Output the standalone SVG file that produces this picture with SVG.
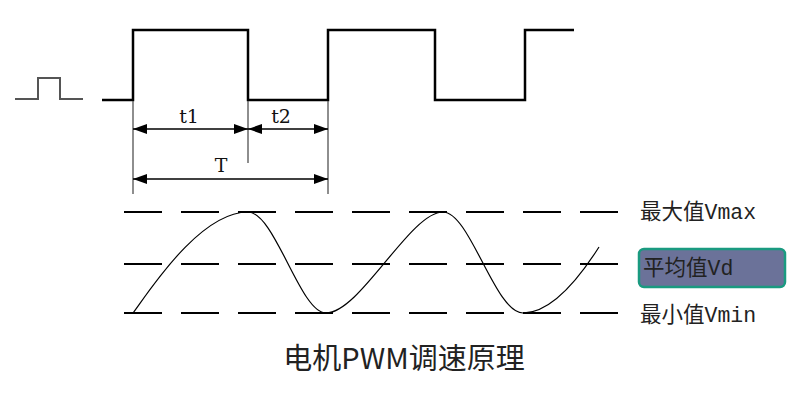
<svg xmlns="http://www.w3.org/2000/svg" width="807" height="400" viewBox="0 0 807 400">
<defs>
<marker id="ah" viewBox="0 0 14 10" refX="14" refY="5" markerWidth="14" markerHeight="10" markerUnits="userSpaceOnUse" orient="auto-start-reverse">
<path d="M0,0 L14,5 L0,10 Z" fill="#000"/>
</marker>
<style>
.wave{fill:none;stroke:#000;stroke-width:2.5;stroke-linejoin:miter}
.small{fill:none;stroke:#555;stroke-width:2}
.ext{fill:none;stroke:#444;stroke-width:1.2}
.dim{fill:none;stroke:#000;stroke-width:1.5}
.dash{fill:none;stroke:#000;stroke-width:2.2;stroke-dasharray:38 19}
.sine{fill:none;stroke:#000;stroke-width:1.2}
.dl{font-family:"DejaVu Serif","Liberation Serif",serif;font-size:19px;fill:#111}
.lab{font-family:"Liberation Mono","Noto Sans CJK SC",monospace;font-size:21.5px;fill:#222}
.title{font-family:"Noto Sans CJK SC","Noto Sans",sans-serif;font-size:29px;fill:#222}
</style>
</defs>
<g id="small-pulse"><path class="small" d="M15,99 H38 V78 H60 V99 H83"/></g>
<g id="pwm-wave"><path class="wave" d="M102,100 H133 V30 H248 V100 H328 V30 H435 V100 H525 V30 H574"/></g>
<g id="connectors">
<path class="ext" d="M133,101 V194 M248,101 V163 M328,101 V194"/>
<path class="dim" d="M133,129 H248" marker-start="url(#ah)" marker-end="url(#ah)"/>
<path class="dim" d="M248,129 H328" marker-start="url(#ah)" marker-end="url(#ah)"/>
<path class="dim" d="M133,179 H328" marker-start="url(#ah)" marker-end="url(#ah)"/>
</g>
<g id="dim-labels">
<text class="dl" x="189" y="123" text-anchor="middle">t1</text>
<text class="dl" x="281" y="123" text-anchor="middle">t2</text>
<text class="dl" x="221" y="172" text-anchor="middle">T</text>
</g>
<g id="levels">
<path class="dash" d="M124,212 H618 M124,264 H618 M124,313 H618"/>
</g>
<g id="sine"><path class="sine" d="M133,313 C150,290 200,212 248,212 C275,212 300,313 326,313 C360,313 410,212 443,212 C470,212 495,313 523,313 C550,313 578,280 599,247"/></g>
<g id="vmax"><text class="lab" x="640" y="219">最大值Vmax</text></g>
<g id="vd">
<rect x="639" y="249" width="146" height="38" rx="5" fill="#6b7299" stroke="#1a9a80" stroke-width="2.5"/>
<text class="lab" x="643" y="275">平均值Vd</text>
</g>
<g id="vmin"><text class="lab" x="640" y="322">最小值Vmin</text></g>
<g id="title"><text class="title" x="404" y="369" text-anchor="middle">电机PWM调速原理</text></g>
</svg>
